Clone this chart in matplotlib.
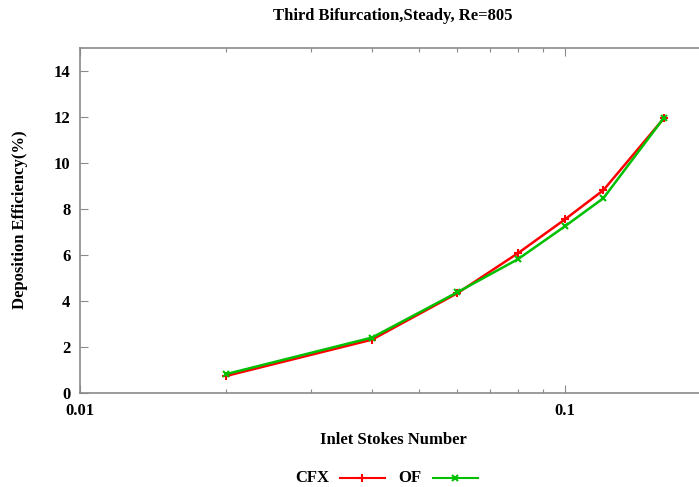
import matplotlib
matplotlib.use("Agg")
import matplotlib.pyplot as plt
from matplotlib.lines import Line2D
from matplotlib.ticker import FixedLocator, NullFormatter

# data
stokes = [0.02, 0.04, 0.06, 0.08, 0.10, 0.12, 0.16]
cfx = [0.74, 2.32, 4.34, 6.08, 7.55, 8.82, 11.95]
of = [0.82, 2.41, 4.38, 5.82, 7.25, 8.47, 11.97]
yticks = [0, 2, 4, 6, 8, 10, 12, 14]
xticks = [0.01, 0.1]
xtick_labels = ["0.01", "0.1"]

RED = "#ff0000"
GREEN = "#00c000"
FRAME = "#8a8a8a"
FONT = "Liberation Serif"

W, H = 699, 487
fig = plt.figure(figsize=(W / 100, H / 100), dpi=100)
# axes runs past the right edge of the image, as in the reference
ax = fig.add_axes([80 / W, 1 - 393 / H, (711 - 80) / W, (393 - 48) / H])

ax.plot(stokes, cfx, color=RED, lw=1.8, marker="+", ms=6, mew=1.5, zorder=3)
ax.plot(stokes, of, color=GREEN, lw=1.8, marker="x", ms=5, mew=1.5, zorder=4)

ax.set_xscale("log")
ax.set_xlim(0.01, 0.2)
ax.set_ylim(0, 15)
ax.xaxis.set_major_locator(FixedLocator(xticks))
ax.set_xticklabels(xtick_labels)
ax.xaxis.set_minor_locator(FixedLocator([k * 0.01 for k in range(2, 10)] + [0.2]))
ax.xaxis.set_minor_formatter(NullFormatter())
ax.set_yticks(yticks)

for sp in ax.spines.values():
    sp.set_color(FRAME)
    sp.set_linewidth(1.2)
ax.tick_params(which="both", direction="in", top=True, right=True, color=FRAME,
               width=0.8, labelsize=12, pad=7)
ax.tick_params(which="major", length=6)
ax.tick_params(which="minor", length=3)
for t in ax.get_xticklabels() + ax.get_yticklabels():
    t.set_fontfamily(FONT)
    t.set_fontweight("bold")

fig.text(393 / W, 1 - 16 / H, "Third Bifurcation,Steady, Re=805", ha="center", va="center",
         family=FONT, weight="bold", fontsize=12)
fig.text(393 / W, 1 - 440 / H, "Inlet Stokes Number", ha="center", va="center",
         family=FONT, weight="bold", fontsize=12)
fig.text(20 / W, 1 - 220 / H, "Deposition Efficiency(%)", ha="center", va="center",
         rotation=90, family=FONT, weight="bold", fontsize=12)

# legend drawn by hand, gnuplot style: label then sample
ly = 1 - 478 / H
fig.text(312 / W, ly, "CFX", ha="center", va="center", family=FONT, weight="bold", fontsize=12)
fig.add_artist(Line2D([340 / W, 385 / W], [ly, ly], color=RED, lw=1.5))
fig.add_artist(Line2D([362 / W], [ly], color=RED, marker="+", ms=6, mew=1.5))
fig.text(410 / W, ly, "OF", ha="center", va="center", family=FONT, weight="bold", fontsize=12)
fig.add_artist(Line2D([433 / W, 478 / W], [ly, ly], color=GREEN, lw=1.5))
fig.add_artist(Line2D([455 / W], [ly], color=GREEN, marker="x", ms=5, mew=1.5))

fig.savefig("out.png", dpi=100)
